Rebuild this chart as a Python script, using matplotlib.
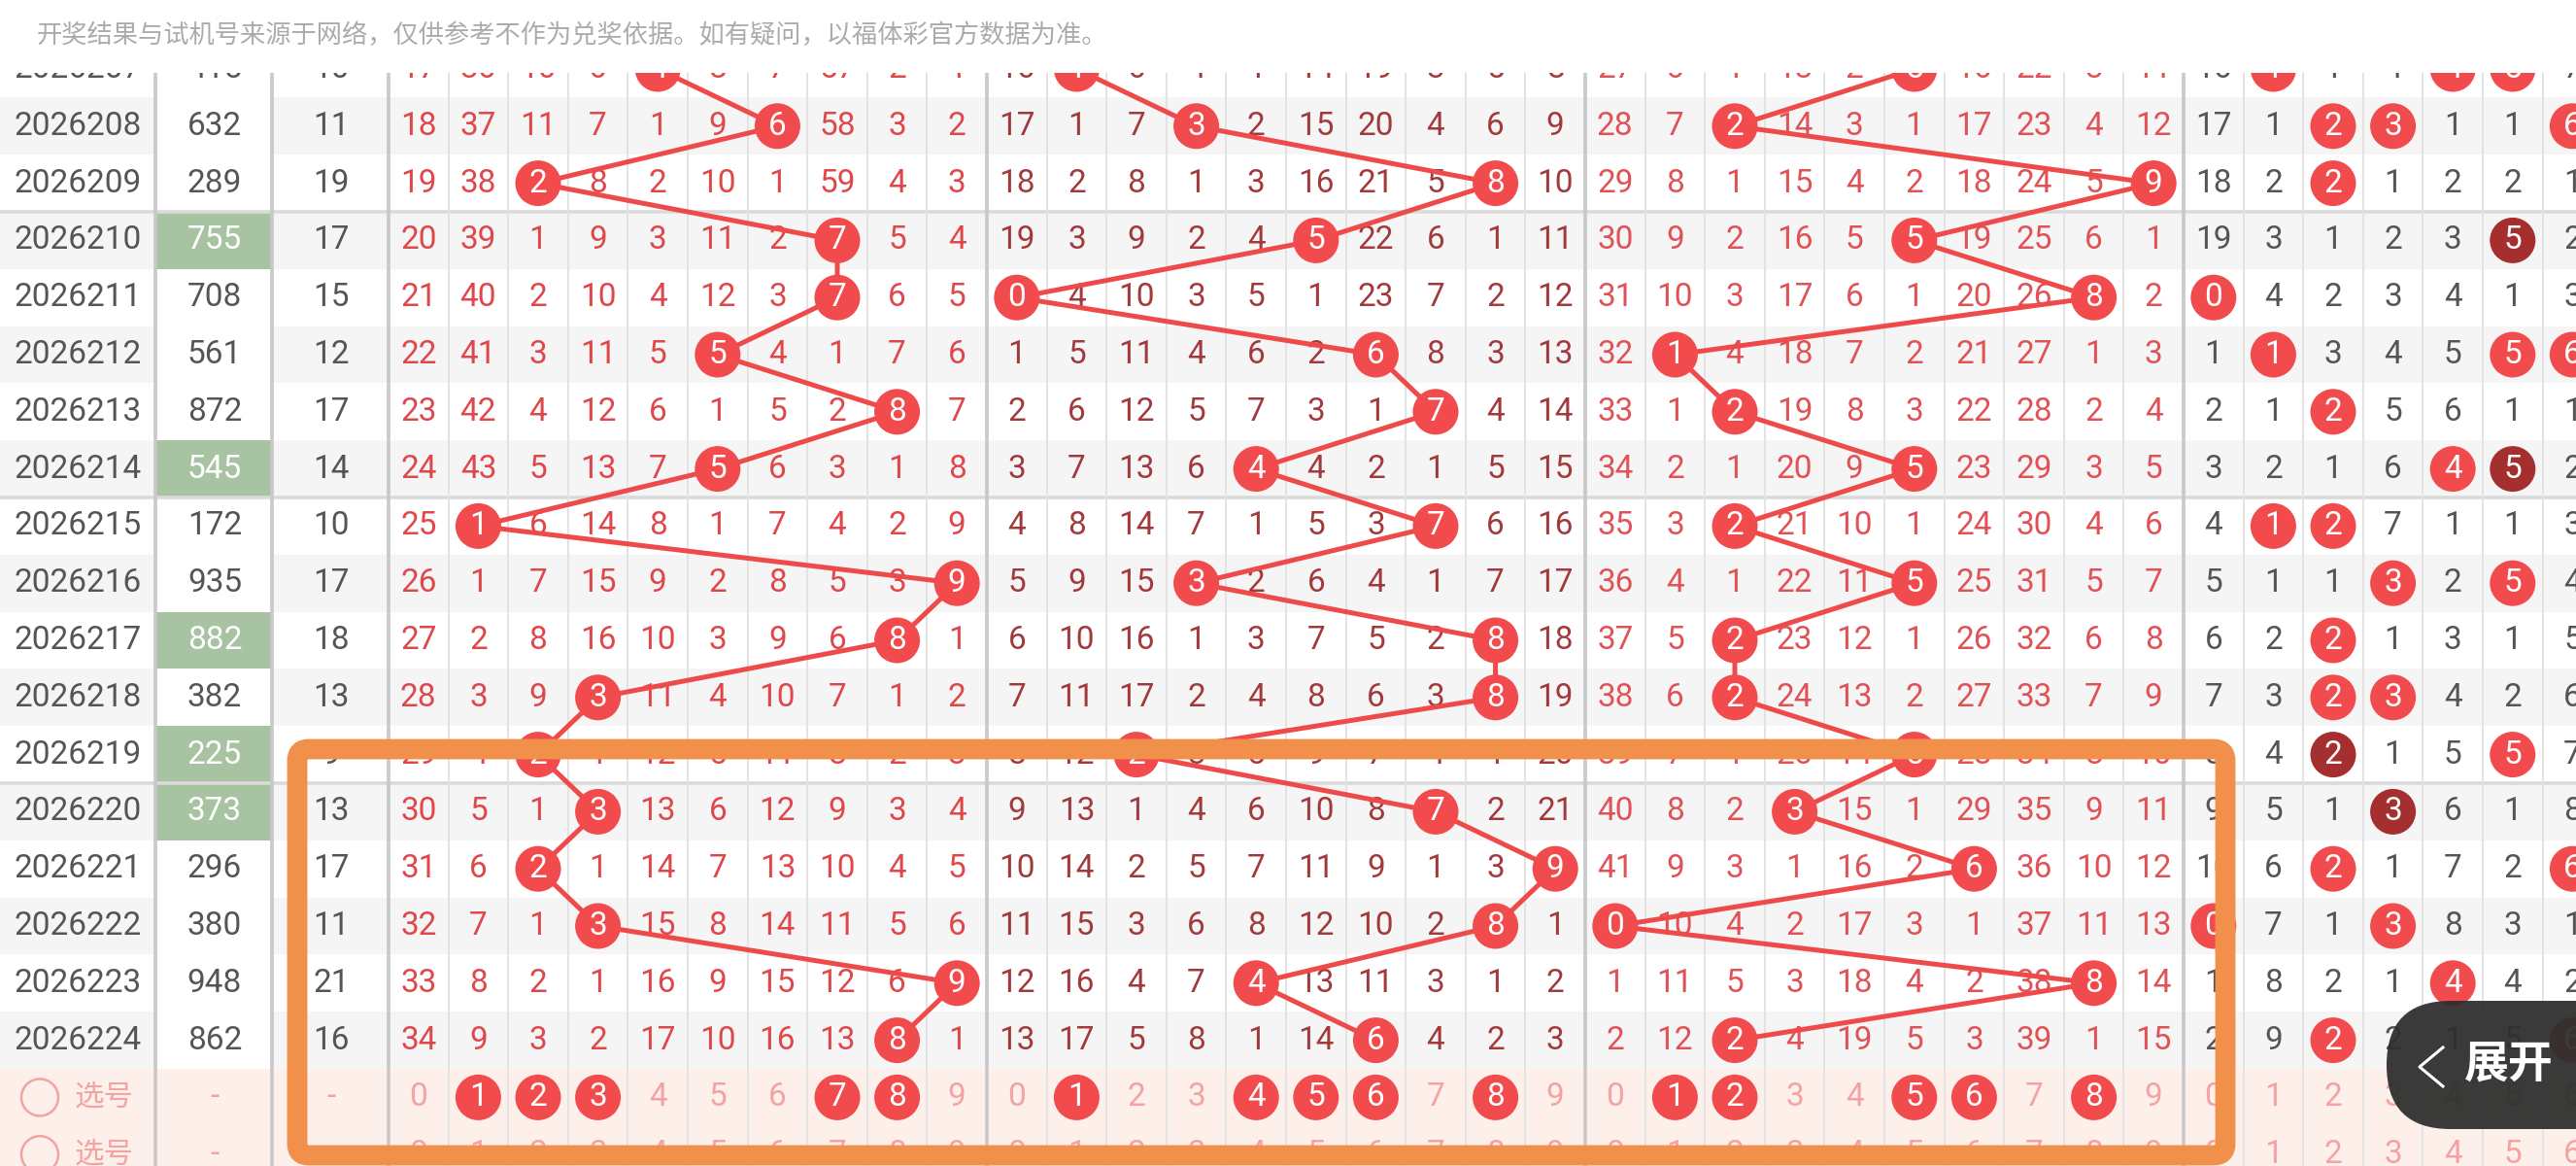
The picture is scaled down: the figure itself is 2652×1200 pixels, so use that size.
import matplotlib
matplotlib.use("Agg")
import matplotlib.pyplot as plt
from matplotlib.patches import Rectangle, Circle, FancyBboxPatch

plt.rcParams['font.family'] = ['Roboto', 'Noto Sans CJK SC', 'DejaVu Sans']

# ---------------- data ----------------
notice = "开奖结果与试机号来源于网络，仅供参考不作为兑奖依据。如有疑问，以福体彩官方数据为准。"
issues = ["2026207", "2026208", "2026209", "2026210", "2026211", "2026212",
          "2026213", "2026214", "2026215", "2026216", "2026217", "2026218",
          "2026219", "2026220", "2026221", "2026222", "2026223", "2026224"]
draws = ["415", "632", "289", "755", "708", "561", "872", "545", "172",
         "935", "882", "382", "225", "373", "296", "380", "948", "862"]
sums = [10, 11, 19, 17, 15, 12, 17, 14, 10, 17, 18, 13, 9, 13, 17, 11, 21, 16]
group3 = [False, False, False, True, False, False, False, True, False,
          False, True, False, True, True, False, False, False, False]

# omission counts, 0 = hit (drawn as a ball)
hund_miss = [
    [17, 36, 10, 6, 0, 8, 7, 57, 2, 1],
    [18, 37, 11, 7, 1, 9, 0, 58, 3, 2],
    [19, 38, 0, 8, 2, 10, 1, 59, 4, 3],
    [20, 39, 1, 9, 3, 11, 2, 0, 5, 4],
    [21, 40, 2, 10, 4, 12, 3, 0, 6, 5],
    [22, 41, 3, 11, 5, 0, 4, 1, 7, 6],
    [23, 42, 4, 12, 6, 1, 5, 2, 0, 7],
    [24, 43, 5, 13, 7, 0, 6, 3, 1, 8],
    [25, 0, 6, 14, 8, 1, 7, 4, 2, 9],
    [26, 1, 7, 15, 9, 2, 8, 5, 3, 0],
    [27, 2, 8, 16, 10, 3, 9, 6, 0, 1],
    [28, 3, 9, 0, 11, 4, 10, 7, 1, 2],
    [29, 4, 0, 1, 12, 5, 11, 8, 2, 3],
    [30, 5, 1, 0, 13, 6, 12, 9, 3, 4],
    [31, 6, 0, 1, 14, 7, 13, 10, 4, 5],
    [32, 7, 1, 0, 15, 8, 14, 11, 5, 6],
    [33, 8, 2, 1, 16, 9, 15, 12, 6, 0],
    [34, 9, 3, 2, 17, 10, 16, 13, 0, 1],
]
tens_miss = [
    [16, 0, 6, 4, 1, 14, 19, 3, 5, 8],
    [17, 1, 7, 0, 2, 15, 20, 4, 6, 9],
    [18, 2, 8, 1, 3, 16, 21, 5, 0, 10],
    [19, 3, 9, 2, 4, 0, 22, 6, 1, 11],
    [0, 4, 10, 3, 5, 1, 23, 7, 2, 12],
    [1, 5, 11, 4, 6, 2, 0, 8, 3, 13],
    [2, 6, 12, 5, 7, 3, 1, 0, 4, 14],
    [3, 7, 13, 6, 0, 4, 2, 1, 5, 15],
    [4, 8, 14, 7, 1, 5, 3, 0, 6, 16],
    [5, 9, 15, 0, 2, 6, 4, 1, 7, 17],
    [6, 10, 16, 1, 3, 7, 5, 2, 0, 18],
    [7, 11, 17, 2, 4, 8, 6, 3, 0, 19],
    [8, 12, 0, 3, 5, 9, 7, 4, 1, 20],
    [9, 13, 1, 4, 6, 10, 8, 0, 2, 21],
    [10, 14, 2, 5, 7, 11, 9, 1, 3, 0],
    [11, 15, 3, 6, 8, 12, 10, 2, 0, 1],
    [12, 16, 4, 7, 0, 13, 11, 3, 1, 2],
    [13, 17, 5, 8, 1, 14, 0, 4, 2, 3],
]
units_miss = [
    [27, 6, 1, 13, 2, 0, 16, 22, 3, 11],
    [28, 7, 0, 14, 3, 1, 17, 23, 4, 12],
    [29, 8, 1, 15, 4, 2, 18, 24, 5, 0],
    [30, 9, 2, 16, 5, 0, 19, 25, 6, 1],
    [31, 10, 3, 17, 6, 1, 20, 26, 0, 2],
    [32, 0, 4, 18, 7, 2, 21, 27, 1, 3],
    [33, 1, 0, 19, 8, 3, 22, 28, 2, 4],
    [34, 2, 1, 20, 9, 0, 23, 29, 3, 5],
    [35, 3, 0, 21, 10, 1, 24, 30, 4, 6],
    [36, 4, 1, 22, 11, 0, 25, 31, 5, 7],
    [37, 5, 0, 23, 12, 1, 26, 32, 6, 8],
    [38, 6, 0, 24, 13, 2, 27, 33, 7, 9],
    [39, 7, 1, 25, 14, 0, 28, 34, 8, 10],
    [40, 8, 2, 0, 15, 1, 29, 35, 9, 11],
    [41, 9, 3, 1, 16, 2, 0, 36, 10, 12],
    [0, 10, 4, 2, 17, 3, 1, 37, 11, 13],
    [1, 11, 5, 3, 18, 4, 2, 38, 0, 14],
    [2, 12, 0, 4, 19, 5, 3, 39, 1, 15],
]
# number distribution (digits 0-6 visible)
dist_miss = [
    [16, 0, 1, 4, 0, 0, 7],
    [17, 1, 0, 0, 1, 1, 0],
    [18, 2, 0, 1, 2, 2, 1],
    [19, 3, 1, 2, 3, 0, 2],
    [0, 4, 2, 3, 4, 1, 3],
    [1, 0, 3, 4, 5, 0, 0],
    [2, 1, 0, 5, 6, 1, 1],
    [3, 2, 1, 6, 0, 0, 2],
    [4, 0, 0, 7, 1, 1, 3],
    [5, 1, 1, 0, 2, 0, 4],
    [6, 2, 0, 1, 3, 1, 5],
    [7, 3, 0, 0, 4, 2, 6],
    [8, 4, 0, 1, 5, 0, 7],
    [9, 5, 1, 0, 6, 1, 8],
    [10, 6, 0, 1, 7, 2, 0],
    [0, 7, 1, 0, 8, 3, 1],
    [1, 8, 2, 1, 0, 4, 2],
    [2, 9, 0, 2, 1, 5, 0],
]
pick_rows = 2
pick_label = "选号"
pick_hund = [1, 2, 3, 7, 8]
pick_tens = [1, 4, 5, 6, 8]
pick_units = [1, 2, 5, 6, 8]
button_text = "展开"

# ---------------- layout / style ----------------
W, H = 2652, 1200
ROW0, ROW_H = 71.0, 58.8
TOP = 75
X0, CW = 400.0, 61.6
X_ISSUE, X_DRAW, X_SUM = 80, 221, 341
FS = 24

RED_BALL = "#F24B4D"
DARK_BALL = "#A52F2F"
LINE_RED = "#EF4A4A"
SEC_COL = ["#E0474B", "#A23A3C", "#E05256"]
GRAY_TXT = "#555555"
PINK_TXT = "#F4A2A2"
ROW_GRAY = "#F5F5F5"
PINK_BG = "#FDEFEA"
GREEN = "#A7C3A2"

fig = plt.figure(figsize=(W / 100, H / 100), dpi=100)
ax = fig.add_axes([0, 0, 1, 1])
ax.set_xlim(0, W)
ax.set_ylim(H, 0)
ax.axis('off')


def ry(i):
    return ROW0 + i * ROW_H


def cx(sec, k):
    return X0 + (10 * sec + k + 0.5) * CW


n = len(issues)
# backgrounds
for i in range(n + pick_rows):
    if i >= n:
        bg = PINK_BG
    else:
        bg = ROW_GRAY if i % 2 == 1 else "white"
    ax.add_patch(Rectangle((0, ry(i) - ROW_H / 2), W, ROW_H, fc=bg, ec='none', zorder=1))
    if i < n:
        ax.add_patch(Rectangle((160, ry(i) - ROW_H / 2), 120, ROW_H,
                               fc=GREEN if group3[i] else "white", ec='none', zorder=1.1))

# grid lines
for i in (3, 8, 13):
    yb = ry(i) - ROW_H / 2
    ax.plot([0, W], [yb, yb], color="#DADADA", lw=2.6, zorder=2)
for xv in (160, 280):
    ax.plot([xv, xv], [TOP, H], color="#C8C8C8", lw=2.6, zorder=2.1)
for c in range(0, 41):
    xv = X0 + c * CW
    if c % 10 == 0:
        ax.plot([xv, xv], [TOP, H], color="#C8C8C8", lw=2.6, zorder=2.1)
    else:
        ax.plot([xv, xv], [TOP, H], color="#E3E3E3", lw=1.4, zorder=2)

# left columns
for i in range(n):
    y = ry(i)
    ax.text(X_ISSUE, y, issues[i], ha='center', va='center', fontsize=FS, color=GRAY_TXT, zorder=3)
    ax.text(X_DRAW, y, draws[i], ha='center', va='center', fontsize=FS,
            color="white" if group3[i] else GRAY_TXT, zorder=3)
    ax.text(X_SUM, y, str(sums[i]), ha='center', va='center', fontsize=FS, color=GRAY_TXT, zorder=3)

R = 23.5
sections = [hund_miss, tens_miss, units_miss]
for s, miss in enumerate(sections):
    xs, ys = [], []
    for i in range(n):
        y = ry(i)
        for k in range(10):
            v = miss[i][k]
            if v == 0:
                xs.append(cx(s, k))
                ys.append(y)
                ax.add_patch(Circle((cx(s, k), y), R, fc=RED_BALL, ec='none', zorder=5))
                ax.text(cx(s, k), y, str(k), ha='center', va='center', fontsize=FS,
                        color='white', zorder=6)
            else:
                ax.text(cx(s, k), y, str(v), ha='center', va='center', fontsize=FS,
                        color=SEC_COL[s], zorder=3)
    ax.plot(xs, ys, color=LINE_RED, lw=3.6, solid_capstyle='round', zorder=4)

# distribution section
for i in range(n):
    y = ry(i)
    for k in range(len(dist_miss[i])):
        v = dist_miss[i][k]
        x = cx(3, k)
        if v == 0:
            dark = draws[i].count(str(k)) >= 2
            ax.add_patch(Circle((x, y), R, fc=DARK_BALL if dark else RED_BALL, ec='none', zorder=5))
            ax.text(x, y, str(k), ha='center', va='center', fontsize=FS, color='white', zorder=6)
        else:
            ax.text(x, y, str(v), ha='center', va='center', fontsize=FS, color=GRAY_TXT, zorder=3)

# pick rows
picks = [pick_hund, pick_tens, pick_units]
for r in range(pick_rows):
    y = ry(n + r)
    ax.add_patch(Circle((41, y), 19, fc='none', ec=PINK_TXT, lw=1.8, zorder=3))
    ax.text(107, y, pick_label, ha='center', va='center', fontsize=22, color=PINK_TXT,
            family=['Noto Sans CJK SC'], zorder=3)
    ax.text(X_DRAW, y, "-", ha='center', va='center', fontsize=FS, color=PINK_TXT, zorder=3)
    ax.text(X_SUM, y, "-", ha='center', va='center', fontsize=FS, color=PINK_TXT, zorder=3)
    for s in range(4):
        for k in range(10):
            x = cx(s, k)
            if x > W + CW:
                continue
            if r == 0 and s < 3 and k in picks[s]:
                ax.add_patch(Circle((x, y), R, fc=RED_BALL, ec='none', zorder=5))
                ax.text(x, y, str(k), ha='center', va='center', fontsize=FS, color='white', zorder=6)
            else:
                ax.text(x, y, str(k), ha='center', va='center', fontsize=FS, color=PINK_TXT, zorder=3)

# header
ax.add_patch(Rectangle((0, 0), W, TOP, fc='white', ec='none', zorder=7))
ax.text(38, 37, notice, ha='left', va='center', fontsize=18.9, color="#ABABAB",
        family=['Noto Sans CJK SC'], zorder=8)

# orange highlight frame
ax.add_patch(FancyBboxPatch((306, 771), 2291 - 306, 1189 - 771,
                            boxstyle="round,pad=0,rounding_size=12",
                            fc='none', ec="#F0904A", lw=15, zorder=9))

# expand button
ax.add_patch(FancyBboxPatch((2457, 1030), 400, 132, boxstyle="round,pad=0,rounding_size=66",
                            fc="#2E2E2E", ec='none', alpha=0.94, zorder=10))
ax.plot([2515, 2491, 2515], [1078, 1098, 1118], color='white', lw=2.2, zorder=11)
ax.text(2583, 1096, button_text, ha='center', va='center', fontsize=33, fontweight='bold',
        color='white', family=['Noto Sans CJK SC'], zorder=11)

fig.savefig("out.png", dpi=100)
